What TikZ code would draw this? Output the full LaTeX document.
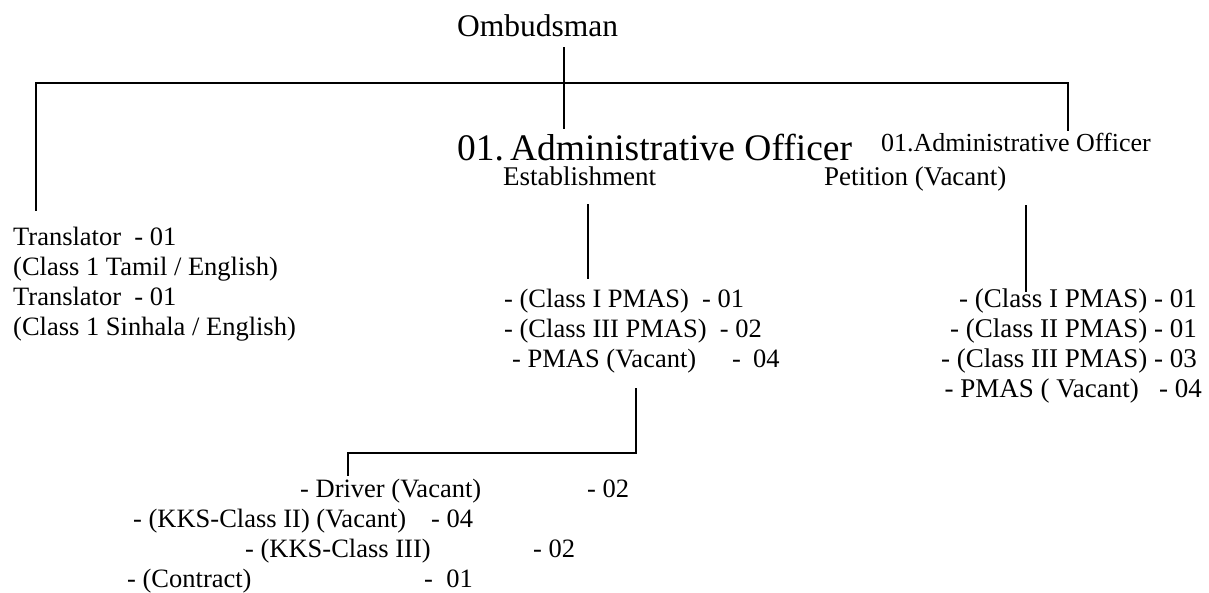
\documentclass[tikz,border=0pt]{standalone}
\usepackage{fontspec}
\setmainfont{Liberation Serif}
\begin{document}
\begin{tikzpicture}[x=1pt,y=-1pt,
  txt/.style={inner sep=0pt, anchor=base west, font=\fontsize{26.5}{30}\selectfont},
  txtr/.style={txt, anchor=base east, font=\fontsize{27}{30}\selectfont},
  sub/.style={txt, font=\fontsize{27}{30}\selectfont},
  conn/.style={line width=2pt, line cap=rect}]
\useasboundingbox (0,0) rectangle (1209,592);
% headings
\node[txt, font=\fontsize{31.5}{36}\selectfont] (omb) at (457,36) {Ombudsman};
\node[txt, font=\fontsize{37.5}{42}\selectfont] (aoe) at (457,160) {01.\hspace{6pt}Administrative Officer};
\node[txt, font=\fontsize{26}{30}\selectfont] (aop) at (881,151) {01.Administrative Officer};
\node[sub] (est) at (503,185) {Establishment};
\node[sub] (pet) at (824,185) {Petition (Vacant)};
% translators
\node[txt] (t1) at (13,245) {Translator\ \ - 01};
\node[txt] (t2) at (13,275) {(Class 1 Tamil / English)};
\node[txt] (t3) at (13,305) {Translator\ \ - 01};
\node[txt] (t4) at (13,335) {(Class 1 Sinhala / English)};
% establishment staff
\node[txt] (e1) at (504,307) {- (Class I PMAS)\ \ - 01};
\node[txt] (e2) at (504,337) {- (Class III PMAS)\ \ - 02};
\node[txt] (e3) at (512,367) {\makebox[220pt][l]{- PMAS (Vacant)}\makebox[21pt][l]{-}04};
% petition staff
\node[txtr] (p1) at (1197,307) {- (Class I PMAS) - 01};
\node[txtr] (p2) at (1197,337) {- (Class II PMAS) - 01};
\node[txtr] (p3) at (1197,367) {- (Class III PMAS) - 03};
\node[txtr] (p4) at (1202,397) {- PMAS ( Vacant)\ \ \ - 04};
% minor staff
\node[txt] (d1) at (300,497) {\makebox[287pt][l]{- Driver (Vacant)}- 02};
\node[txt] (d2) at (133,527) {\makebox[298pt][l]{- (KKS-Class II) (Vacant)}- 04};
\node[txt] (d3) at (245,557) {\makebox[288pt][l]{- (KKS-Class III)}- 02};
\node[txt] (d4) at (127,587) {\makebox[297pt][l]{- (Contract)}-\ \ 01};
% connector points
\coordinate (ombS) at (564,48);
\coordinate (aoeN) at (564,128);
\coordinate (busL) at (36,83);
\coordinate (busR) at (1068,83);
\coordinate (trN) at (36,210);
\coordinate (aopN) at (1068,130);
\coordinate (estS) at (588,205);
\coordinate (e1N) at (588,278);
\coordinate (petS) at (1026,206);
\coordinate (p1N) at (1026,291);
\coordinate (e3S) at (636,389);
\coordinate (elb) at (348,453);
\coordinate (d1N) at (348,475);
% connectors
\draw[conn] (ombS) -- (aoeN);
\draw[conn] (trN) -- (busL) -- (busR) -- (aopN);
\draw[conn] (estS) -- (e1N);
\draw[conn] (petS) -- (p1N);
\draw[conn] (e3S) |- (elb) -- (d1N);
\end{tikzpicture}
\end{document}
